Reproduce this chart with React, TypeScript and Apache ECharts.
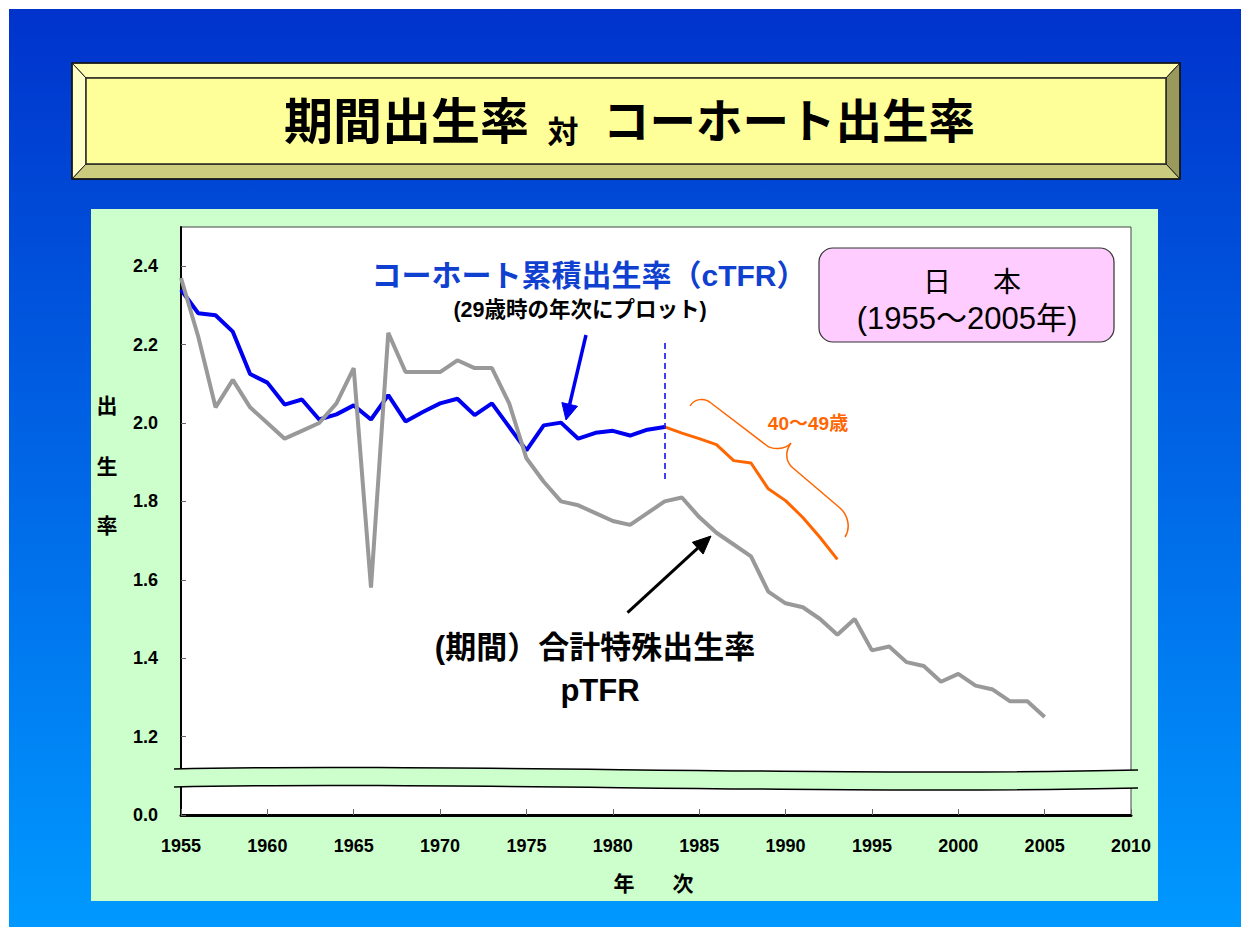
import React, { useEffect, useRef } from 'react';
import * as echarts from 'echarts';

// ---------------- data ----------------
const ptfrStartYear = 1955;
const ptfrValues = [
  2.37, 2.22, 2.04, 2.11, 2.04, 2.0, 1.96, 1.98, 2.0, 2.05,
  2.14, 1.58, 2.23, 2.13, 2.13, 2.13, 2.16, 2.14, 2.14, 2.05,
  1.91, 1.85, 1.8, 1.79, 1.77, 1.75, 1.74, 1.77, 1.8, 1.81,
  1.76, 1.72, 1.69, 1.66, 1.57, 1.54, 1.53, 1.5, 1.46, 1.5,
  1.42, 1.43, 1.39, 1.38, 1.34, 1.36, 1.33, 1.32, 1.29, 1.29,
  1.25,
];
const ctfrStartYear = 1955;
const ctfrValues = [
  2.34, 2.28, 2.275, 2.233, 2.125, 2.103, 2.047, 2.06, 2.009, 2.022,
  2.045, 2.009, 2.071, 2.004, 2.028, 2.05, 2.062, 2.02, 2.05, 1.99,
  1.93, 1.994, 2.001, 1.96, 1.975, 1.98, 1.968, 1.983, 1.99,
];
const ctfr4049StartYear = 1983;
const ctfr4049Values = [1.99, 1.974, 1.96, 1.945, 1.904, 1.898, 1.832, 1.802, 1.759, 1.708, 1.652];
const cutYear = 1983;
const cutLineRange = [2.204, 1.853];

const xMin = 1955;
const xMax = 2010;
const xStep = 5;
const yMin = 1.0; // shown as 0.0 (broken axis)
const yMax = 2.5;
const yStep = 0.2;
const breakLabel = '0.0';

const titleLeft = '期間出生率';
const titleMid = '対';
const titleRight = 'コーホート出生率';
const cohortLabel = 'コーホート累積出生率（cTFR）';
const cohortSub = '(29歳時の年次にプロット)';
const periodLabel1 = '(期間）合計特殊出生率';
const periodLabel2 = 'pTFR';
const ageLabel = '40〜49歳';
const countryChars = ['日', '本'];
const periodRange = '(1955〜2005年)';
const yNameChars = ['出', '生', '率'];
const xNameChars = ['年', '次'];

// ---------------- shapes ----------------
echarts.graphic.registerShape(
  'breakBand',
  echarts.graphic.extendPath(
    'M174,769 C420,763 850,777 1138,770 L1138,788 C850,795 420,781 174,787 Z',
    {}
  )
);
echarts.graphic.registerShape(
  'breakLines',
  echarts.graphic.extendPath(
    'M174,769 C420,763 850,777 1138,770 M1138,788 C850,795 420,781 174,787',
    {}
  )
);
echarts.graphic.registerShape(
  'brace',
  echarts.graphic.extendPath(
    'M690,406 C694,399 704,397 711,403 L766,445 C772,450 785,450 791,443 C786,450 784,460 793,468 L840,508 C848,515 851,528 845,537',
    {}
  )
);

const LATIN = "'Liberation Sans', 'Noto Sans CJK JP', Arial, sans-serif";

function txt(text: string, x: number, y: number, size: number, opts: any = {}) {
  const align = opts.align || 'center';
  return {
    type: 'text',
    x,
    y,
    z: opts.z ?? 100,
    silent: true,
    style: {
      text,
      fill: opts.color || '#000',
      fontSize: size,
      fontWeight: opts.weight || 'bold',
      fontFamily: LATIN,
      align,
      textAlign: align,
      verticalAlign: 'middle',
      textVerticalAlign: 'middle',
    },
  };
}

function arrow(x1: number, y1: number, x2: number, y2: number, color: string, w: number, hl: number, hw: number) {
  const len = Math.hypot(x2 - x1, y2 - y1);
  const dx = (x2 - x1) / len;
  const dy = (y2 - y1) / len;
  const bx = x2 - dx * hl;
  const by = y2 - dy * hl;
  const nx = -dy;
  const ny = dx;
  return [
    { type: 'line', z: 100, silent: true, shape: { x1, y1, x2: bx, y2: by }, style: { stroke: color, lineWidth: w } },
    {
      type: 'polygon',
      z: 100,
      silent: true,
      shape: { points: [[x2, y2], [bx + nx * hw, by + ny * hw], [bx - nx * hw, by - ny * hw]] },
      style: { fill: color, stroke: color, lineWidth: 1 },
    },
  ];
}

function buildOption() {
  const ptfr = ptfrValues.map((v, i) => [ptfrStartYear + i, v]);
  const ctfr = ctfrValues.map((v, i) => [ctfrStartYear + i, v]);
  const ctfr4049 = ctfr4049Values.map((v, i) => [ctfr4049StartYear + i, v]);

  const graphic: any[] = [
    {
      type: 'rect',
      z: -20,
      silent: true,
      shape: { x: 9, y: 9, width: 1232, height: 918 },
      style: {
        fill: {
          type: 'linear', x: 0, y: 0, x2: 0, y2: 1,
          colorStops: [
            { offset: 0, color: '#0033cc' },
            { offset: 1, color: '#0099ff' },
          ],
        },
      },
    },
    { type: 'rect', z: -19, silent: true, shape: { x: 91, y: 209, width: 1067, height: 692 }, style: { fill: '#ccffcc' } },
    // title box bevel
    { type: 'polygon', z: -18, silent: true, shape: { points: [[72, 63], [1180, 63], [1166, 78], [86, 78]] }, style: { fill: '#ffffb0', stroke: '#222', lineWidth: 1 } },
    { type: 'polygon', z: -18, silent: true, shape: { points: [[72, 63], [86, 78], [86, 164], [72, 179]] }, style: { fill: '#ffffc8', stroke: '#222', lineWidth: 1 } },
    { type: 'polygon', z: -18, silent: true, shape: { points: [[1180, 63], [1180, 179], [1166, 164], [1166, 78]] }, style: { fill: '#99995c', stroke: '#222', lineWidth: 1 } },
    { type: 'polygon', z: -18, silent: true, shape: { points: [[72, 179], [86, 164], [1166, 164], [1180, 179]] }, style: { fill: '#cccc7f', stroke: '#222', lineWidth: 1 } },
    { type: 'rect', z: -18, silent: true, shape: { x: 86, y: 78, width: 1080, height: 86 }, style: { fill: '#ffff99', stroke: '#222', lineWidth: 1.5 } },
    { type: 'rect', z: -17, silent: true, shape: { x: 72, y: 63, width: 1108, height: 116 }, style: { fill: 'none', stroke: '#111', lineWidth: 1.5 } },
    txt(titleLeft, 529, 122, 49, { align: 'right', z: -16 }),
    txt(titleMid, 563, 132, 31, { z: -16 }),
    txt(titleRight, 603, 122, 46.5, { align: 'left', z: -16 }),
    // axis break
    { type: 'breakBand', z: 50, silent: true, x: 0, y: 0, style: { fill: '#ccffcc', stroke: 'none' } },
    { type: 'breakLines', z: 51, silent: true, x: 0, y: 0, style: { fill: 'none', stroke: '#000', lineWidth: 1.5 } },
    // axis names
    ...yNameChars.map((c, i) => txt(c, 107, [405, 466, 525][i], 21)),
    ...xNameChars.map((c, i) => txt(c, [624, 683][i], 883, 21)),
    // annotations
    txt(cohortLabel, 589, 275, 30, { color: '#1040d0' }),
    txt(cohortSub, 580, 310, 21.5),
    txt(periodLabel1, 595, 647, 31),
    txt(periodLabel2, 600, 690, 31),
    txt(ageLabel, 808, 423, 19, { color: '#ff6600' }),
    { type: 'brace', z: 100, silent: true, x: 0, y: 0, style: { fill: 'none', stroke: '#ff6600', lineWidth: 1.5 } },
    ...arrow(586, 335, 566, 420, '#0000f0', 3.5, 16, 8),
    ...arrow(627.5, 612.7, 711, 536, '#000', 3, 18, 8),
    // country box
    { type: 'rect', z: 100, silent: true, shape: { x: 819, y: 248, width: 295, height: 94, r: 14 }, style: { fill: '#ffccff', stroke: '#333', lineWidth: 1.2 } },
    txt(countryChars[0], 937, 282, 28, { weight: 'normal' }),
    txt(countryChars[1], 1007, 282, 28, { weight: 'normal' }),
    txt(periodRange, 967, 318, 31, { weight: 'normal' }),
  ];

  return {
    animation: false,
    backgroundColor: '#ffffff',
    grid: {
      left: 181,
      top: 227,
      width: 950,
      height: 588,
      show: true,
      backgroundColor: '#ffffff',
      borderColor: '#444',
      borderWidth: 1,
    },
    xAxis: {
      type: 'value',
      min: xMin,
      max: xMax,
      interval: xStep,
      axisLine: { show: true, onZero: false, lineStyle: { color: '#000', width: 3 } },
      axisTick: { show: true, inside: true, length: 6, lineStyle: { color: '#666', width: 1 } },
      axisLabel: {
        margin: 22,
        color: '#000',
        fontSize: 18,
        fontWeight: 'bold',
        fontFamily: LATIN,
        showMinLabel: true,
        showMaxLabel: true,
        formatter: (v: number) => String(Math.round(v)),
      },
      splitLine: { show: false },
    },
    yAxis: {
      type: 'value',
      min: yMin,
      max: yMax,
      interval: yStep,
      axisLine: { show: true, onZero: false, lineStyle: { color: '#000', width: 2 } },
      axisTick: { show: true, inside: true, length: 5, lineStyle: { color: '#666', width: 1 } },
      axisLabel: {
        margin: 23,
        color: '#000',
        fontSize: 18,
        fontWeight: 'bold',
        fontFamily: LATIN,
        showMaxLabel: false,
        formatter: (v: number) => {
          if (Math.abs(v - yMin) < 1e-6) return breakLabel;
          if (v > yMax - yStep / 2) return '';
          return v.toFixed(1);
        },
      },
      splitLine: { show: false },
    },
    series: [
      {
        name: 'cTFR',
        type: 'line',
        data: ctfr,
        symbol: 'none',
        z: 3,
        lineStyle: { color: '#0000f0', width: 4 },
        markLine: {
          silent: true,
          symbol: 'none',
          label: { show: false },
          lineStyle: { color: '#0000f0', width: 1.5, type: [6, 4] },
          data: [[{ coord: [cutYear, cutLineRange[0]] }, { coord: [cutYear, cutLineRange[1]] }]],
        },
      },
      {
        name: 'cTFR 40-49',
        type: 'line',
        data: ctfr4049,
        symbol: 'none',
        z: 3,
        lineStyle: { color: '#ff6600', width: 3 },
      },
      {
        name: 'pTFR',
        type: 'line',
        data: ptfr,
        symbol: 'none',
        z: 4,
        lineStyle: { color: '#999999', width: 4 },
      },
    ],
    graphic,
  };
}

export default function App() {
  const ref = useRef<HTMLDivElement>(null);
  useEffect(() => {
    if (!ref.current) return;
    const chart = echarts.init(ref.current, null, { renderer: 'svg' });
    chart.setOption(buildOption() as any);
    return () => chart.dispose();
  }, []);
  return (
    <div
      ref={ref}
      style={{ position: 'fixed', left: 0, top: 0, width: 1241, height: 927, background: '#fff' }}
    />
  );
}
